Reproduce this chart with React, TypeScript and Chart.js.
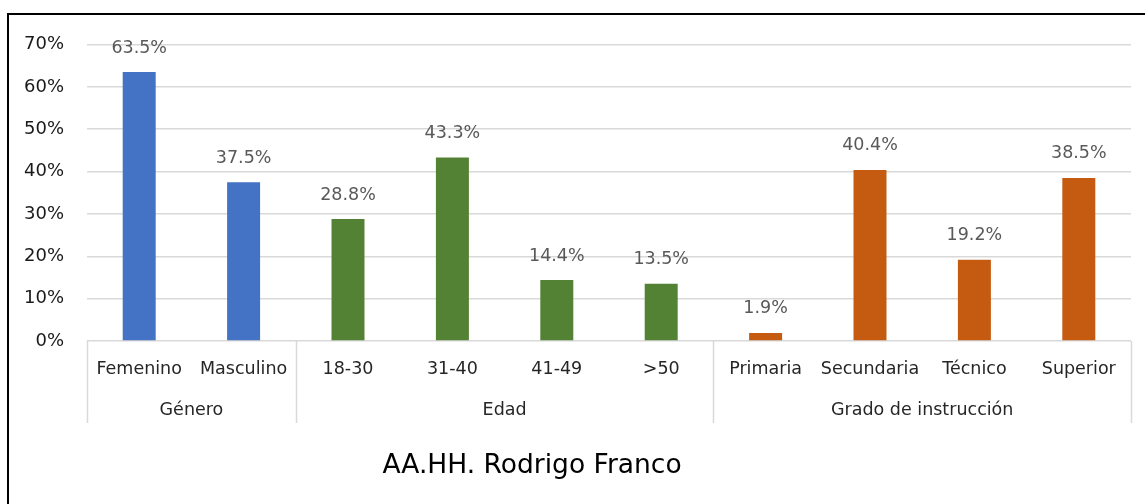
import React, { useEffect, useRef } from "react";
import { Chart, registerables } from "chart.js";

Chart.register(...registerables);

const categories = ["Femenino", "Masculino", "18-30", "31-40", "41-49", ">50", "Primaria", "Secundaria", "Técnico", "Superior"];
const values = [63.5, 37.5, 28.8, 43.3, 14.4, 13.5, 1.9, 40.4, 19.2, 38.5];
const groupNames = ["Género", "Edad", "Grado de instrucción"];
const groupSizes = [2, 4, 4];
const groupColors = ["#4472C4", "#548235", "#C55A11"];
const yTicks = [0, 10, 20, 30, 40, 50, 60, 70];
const footerText = "AA.HH. Rodrigo Franco";

const FONT = "'DejaVu Sans', sans-serif";

const barColors: string[] = [];
groupSizes.forEach((n, g) => {
  for (let i = 0; i < n; i++) barColors.push(groupColors[g]);
});

const extrasPlugin = {
  id: "extras",
  afterDraw(chart: any) {
    const ctx = chart.ctx as CanvasRenderingContext2D;
    const x = chart.scales.x;
    const area = chart.chartArea;
    const meta = chart.getDatasetMeta(0);
    ctx.save();
    // data labels
    ctx.fillStyle = "#595959";
    ctx.font = `17.5px ${FONT}`;
    ctx.textAlign = "center";
    ctx.textBaseline = "middle";
    meta.data.forEach((bar: any, i: number) => {
      ctx.fillText(values[i].toFixed(1) + "%", bar.x, bar.y - 24);
    });
    // group separators
    const step = (x.right - x.left) / categories.length;
    ctx.strokeStyle = "#d9d9d9";
    ctx.lineWidth = 1.5;
    let idx = 0;
    const bounds: number[] = [x.left];
    groupSizes.forEach((n) => {
      idx += n;
      bounds.push(x.left + idx * step);
    });
    bounds.forEach((bx) => {
      ctx.beginPath();
      ctx.moveTo(Math.round(bx) + 0.5, area.bottom);
      ctx.lineTo(Math.round(bx) + 0.5, 423);
      ctx.stroke();
    });
    // group labels
    ctx.fillStyle = "#262626";
    ctx.font = `17.5px ${FONT}`;
    groupNames.forEach((name, g) => {
      const cx = (bounds[g] + bounds[g + 1]) / 2;
      ctx.fillText(name, cx, 410);
    });
    // footer text
    ctx.fillStyle = "#000000";
    ctx.font = `26.5px ${FONT}`;
    ctx.fillText(footerText, 532, 466);
    ctx.restore();
  },
};

export default function App() {
  const canvasRef = useRef<HTMLCanvasElement | null>(null);

  useEffect(() => {
    const canvas = canvasRef.current;
    if (!canvas) return;
    const chart = new Chart(canvas, {
      type: "bar",
      data: {
        labels: categories,
        datasets: [
          {
            data: values,
            backgroundColor: barColors,
            borderWidth: 0,
            barPercentage: 0.316,
            categoryPercentage: 1,
          },
        ],
      },
      options: {
        animation: false,
        responsive: false,
        maintainAspectRatio: false,
        layout: { padding: { left: 12, top: 44.5, right: 14, bottom: 504 - 341 - 40 } },
        plugins: {
          legend: { display: false },
          tooltip: { enabled: false },
          title: { display: false },
        },
        scales: {
          x: {
            grid: { display: false, drawTicks: false },
            border: { display: false },
            ticks: {
              color: "#262626",
              font: { family: FONT, size: 17.5 },
              padding: 18,
              maxRotation: 0,
              autoSkip: false,
            },
            afterFit: (s: any) => {
              s.height = 40;
            },
          },
          y: {
            min: 0,
            max: 70,
            afterBuildTicks: (s: any) => {
              s.ticks = yTicks.map((v) => ({ value: v }));
            },
            grid: { color: "#d9d9d9", lineWidth: 1.5, drawTicks: false },
            border: { display: false },
            ticks: {
              color: "#1a1a1a",
              font: { family: FONT, size: 18 },
              padding: 23,
              callback: (v: any) => `${v}%`,
            },
            afterFit: (s: any) => {
              s.width = 75;
            },
          },
        },
      },
      plugins: [extrasPlugin],
    });
    return () => chart.destroy();
  }, []);

  return (
    <div style={{ position: "fixed", left: 0, top: 0, width: 1145, height: 504, overflow: "hidden", background: "#fff" }}>
      <div
        style={{
          position: "absolute",
          left: 7,
          top: 13,
          width: 1300,
          height: 700,
          border: "2px solid #000",
          boxSizing: "border-box",
        }}
      />
      <canvas ref={canvasRef} width={1145} height={504} style={{ position: "absolute", left: 0, top: 0, width: 1145, height: 504 }} />
    </div>
  );
}
